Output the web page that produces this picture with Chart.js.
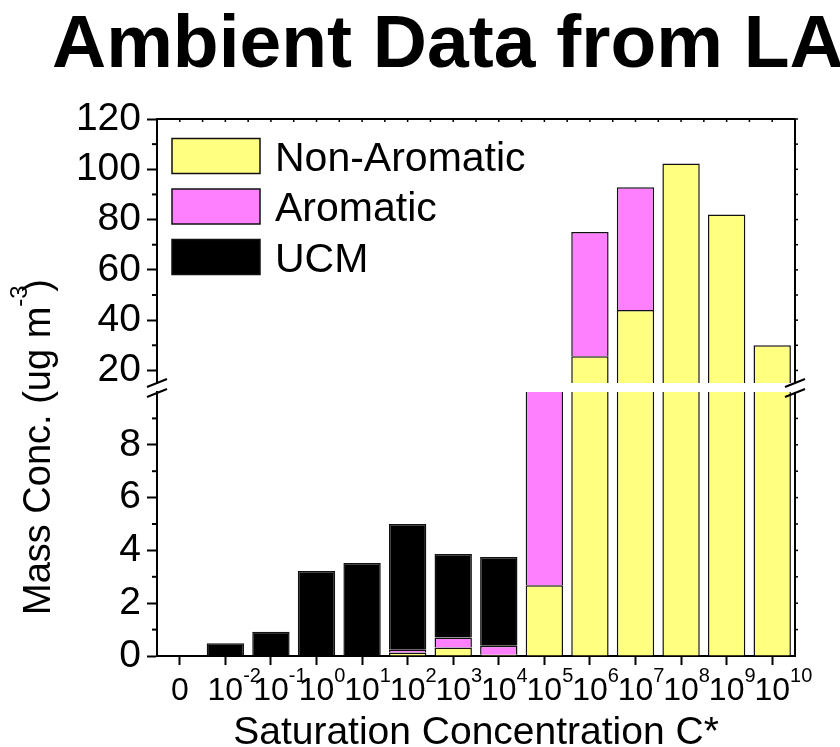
<!DOCTYPE html>
<html>
<head>
<meta charset="utf-8">
<title>Ambient Data from LA</title>
<script src="https://cdn.jsdelivr.net/npm/chart.js@4.4.1/dist/chart.umd.min.js"></script>
<style>
  body { margin: 0; background: #fff; }
  #wrap { position: relative; width: 840px; height: 747px; }
  #wrap canvas { position: absolute; left: 0; top: 0; }
</style>
</head>
<body>
<div id="wrap">
  <canvas id="upper" width="840" height="747"></canvas>
  <canvas id="lower" width="840" height="747"></canvas>
</div>
<script>
// bins of saturation concentration C*
const categories = ['0', '10^-2', '10^-1', '10^0', '10^1', '10^2', '10^3', '10^4', '10^5', '10^6', '10^7', '10^8', '10^9', '10^10'];

// mass conc. (ug m-3), stacked bottom to top
const nonAromatic = [0, 0, 0, 0, 0, 0.13, 0.32, 0.05, 2.68, 25.6, 44, 102.3, 82, 30];
const aromatic = [0, 0, 0, 0, 0, 0.11, 0.38, 0.34, 9.5, 49.5, 48.9, 0, 0, 0];
const ucm = [0.03, 0.48, 0.92, 3.22, 3.52, 4.76, 3.16, 3.36, 0, 0, 0, 0, 0, 0];

// broken y axis: upper part 15-120, lower part 0-10
const upperRange = [15, 120];
const lowerRange = [0, 10];
const upperTicks = [20, 40, 60, 80, 100, 120];
const upperMinorTicks = [30, 50, 70, 90, 110];
const lowerTicks = [0, 2, 4, 6, 8];
const lowerMinorTicks = [1, 3, 5, 7, 9];

const FONT = '"Liberation Sans", Arial, sans-serif';
Chart.defaults.font.family = FONT;
Chart.defaults.color = '#000';

function line(ctx, x1, y1, x2, y2) {
    ctx.beginPath();
    ctx.moveTo(x1, y1);
    ctx.lineTo(x2, y2);
    ctx.stroke();
}

function makeDatasets() {
    const common = {
        borderColor: '#111',
        borderWidth: 1.5,
        borderSkipped: 'start',
        barPercentage: 0.82,
        categoryPercentage: 1,
        clip: 0
    };
    return [
        Object.assign({ label: 'Non-Aromatic', data: nonAromatic, backgroundColor: '#FFFF80' }, common),
        Object.assign({ label: 'Aromatic', data: aromatic, backgroundColor: '#FF80FF' }, common),
        Object.assign({ label: 'UCM', data: ucm, backgroundColor: '#000000' }, common)
    ];
}

const decorPlugin = {
    id: 'decor',
    afterDraw(chart, args, opts) {
        const ctx = chart.ctx;
        const area = chart.chartArea;
        const xs = chart.scales.x;
        const ys = chart.scales.y;
        ctx.save();
        ctx.strokeStyle = '#000';
        ctx.fillStyle = '#000';
        ctx.lineWidth = 2;

        // right frame line
        line(ctx, area.right, area.top, area.right, area.bottom);

        // minor ticks on left axis
        opts.minor.forEach(v => {
            const py = ys.getPixelForValue(v);
            line(ctx, area.left - 5, py, area.left, py);
        });

        // small ticks on right axis
        ctx.lineWidth = 1.5;
        opts.right.forEach(v => {
            const py = ys.getPixelForValue(v);
            line(ctx, area.right, py, area.right + 3, py);
        });

        if (opts.part === 'upper') {
            ctx.lineWidth = 2;
            line(ctx, area.left, area.top, area.right, area.top);
            ctx.lineWidth = 1.5;
            const half = (xs.getPixelForValue(1) - xs.getPixelForValue(0)) / 2;
            categories.forEach((c, i) => {
                const px = xs.getPixelForValue(i);
                line(ctx, px, area.top, px, area.top + 3);
                if (i > 0) line(ctx, px - half, area.top, px - half, area.top + 3);
            });

            // title
            ctx.font = 'bold 75px ' + FONT;
            ctx.textAlign = 'left';
            ctx.textBaseline = 'alphabetic';
            ctx.fillText('Ambient Data from LA', 52, 67);

            // legend
            ctx.font = '41px ' + FONT;
            chart.data.datasets.forEach((ds, i) => {
                const top = 138.5 + i * 50.5;
                ctx.fillStyle = ds.backgroundColor;
                ctx.fillRect(172, top, 88, 35);
                ctx.strokeStyle = '#111';
                ctx.lineWidth = 1.5;
                ctx.strokeRect(172, top, 88, 35);
                ctx.fillStyle = '#000';
                ctx.fillText(ds.label, 275, top + 17.5 + 14.7);
            });
        } else {
            // x tick labels with superscripts
            ctx.textBaseline = 'alphabetic';
            categories.forEach((c, i) => {
                const px = xs.getPixelForValue(i);
                const parts = c.split('^');
                ctx.font = '32px ' + FONT;
                ctx.textAlign = 'center';
                ctx.fillText(parts[0], px, 700);
                if (parts[1] !== undefined) {
                    const w = ctx.measureText(parts[0]).width;
                    ctx.font = '20px ' + FONT;
                    ctx.textAlign = 'left';
                    ctx.fillText(parts[1], px + w / 2, 682);
                }
            });

            // x axis title
            ctx.font = '39px ' + FONT;
            ctx.textAlign = 'center';
            ctx.fillText('Saturation Concentration C*', (area.left + area.right) / 2, 744);

            // y axis title, rotated
            ctx.save();
            ctx.translate(50, 615);
            ctx.rotate(-Math.PI / 2);
            ctx.textAlign = 'left';
            ctx.font = '38px ' + FONT;
            const main = 'Mass Conc. (ug m';
            ctx.fillText(main, 0, 0);
            const w = ctx.measureText(main).width;
            ctx.fillText(')', w + 15, 0);
            ctx.font = '24px ' + FONT;
            ctx.fillText('-3', w, -23);
            ctx.restore();

            // axis break marks
            ctx.lineWidth = 2;
            const upperArea = opts.upperChart.chartArea;
            [area.left, area.right].forEach(px => {
                [upperArea.bottom, area.top + 1].forEach(yc => {
                    line(ctx, px - 10, yc + 4, px + 10, yc - 4);
                });
            });
        }
        ctx.restore();
    }
};

function yScale(range, ticks) {
    return {
        stacked: true,
        min: range[0],
        max: range[1],
        afterBuildTicks: s => { s.ticks = ticks.map(v => ({ value: v })); },
        afterFit: s => { s.width = 157; },
        ticks: { font: { size: 39 }, padding: 6, color: '#000' },
        grid: { drawOnChartArea: false, tickLength: 10, tickWidth: 2, tickColor: '#000' },
        border: { display: true, width: 2, color: '#000' }
    };
}

const upperChart = new Chart(document.getElementById('upper'), {
    type: 'bar',
    data: { labels: categories, datasets: makeDatasets() },
    options: {
        responsive: false,
        animation: false,
        layout: { padding: { top: 119, bottom: 364, left: 0, right: 45 } },
        plugins: {
            legend: { display: false },
            tooltip: { enabled: false },
            decor: {
                part: 'upper',
                minor: upperMinorTicks,
                right: upperTicks.concat(upperMinorTicks)
            }
        },
        scales: {
            x: { stacked: true, display: false },
            y: yScale(upperRange, upperTicks)
        }
    },
    plugins: [decorPlugin]
});

const lowerChart = new Chart(document.getElementById('lower'), {
    type: 'bar',
    data: { labels: categories, datasets: makeDatasets() },
    options: {
        responsive: false,
        animation: false,
        layout: { padding: { top: 392, bottom: 0, left: 0, right: 45 } },
        plugins: {
            legend: { display: false },
            tooltip: { enabled: false },
            decor: {
                part: 'lower',
                minor: lowerMinorTicks,
                right: lowerTicks.concat(lowerMinorTicks).filter(v => v > 0),
                upperChart: upperChart
            }
        },
        scales: {
            x: {
                stacked: true,
                afterFit: s => { s.height = 91; },
                ticks: { display: false },
                grid: { drawOnChartArea: false, offset: false, tickLength: 9, tickWidth: 2, tickColor: '#000' },
                border: { display: true, width: 2, color: '#000' }
            },
            y: yScale(lowerRange, lowerTicks)
        }
    },
    plugins: [decorPlugin]
});
</script>
</body>
</html>
